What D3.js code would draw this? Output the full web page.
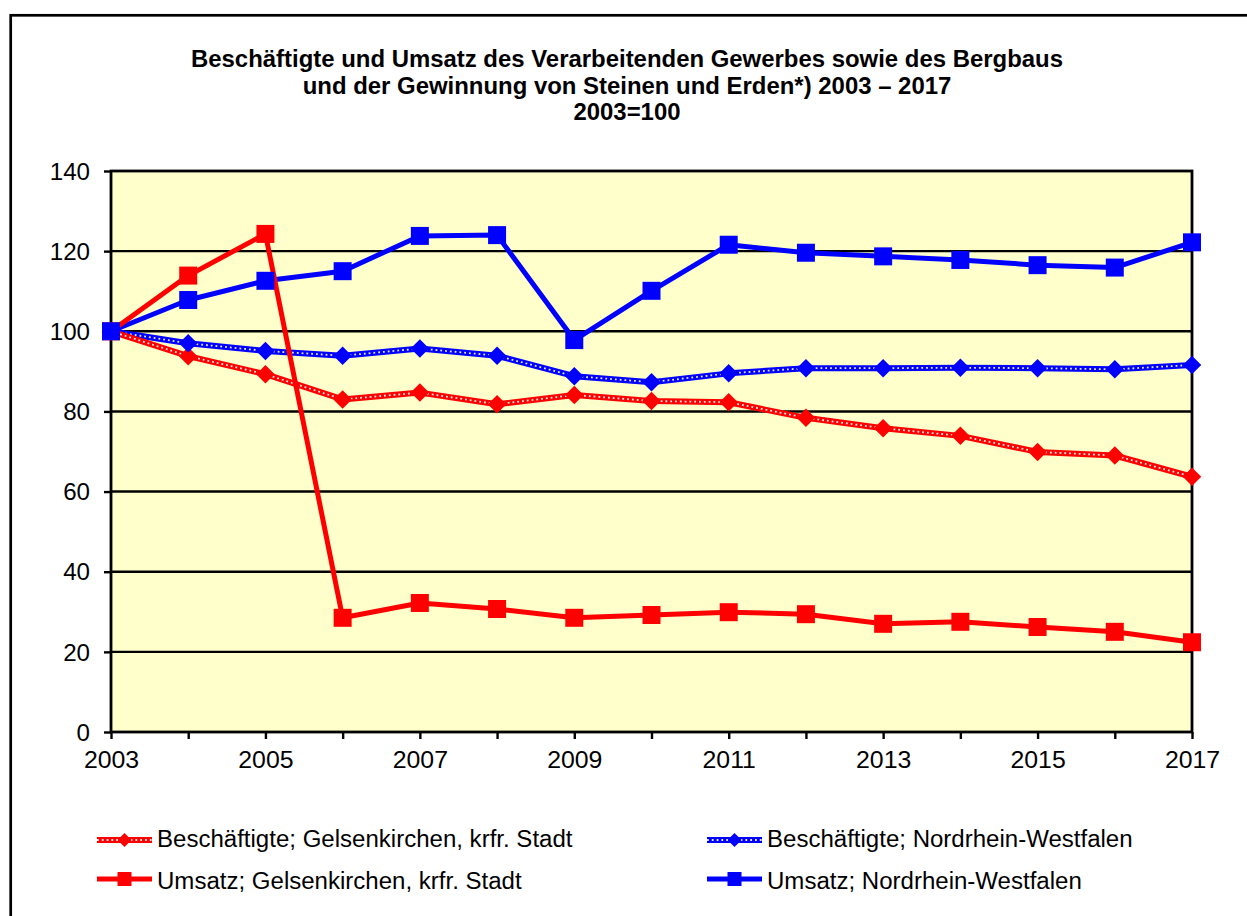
<!DOCTYPE html>
<html>
<head>
<meta charset="utf-8">
<script src="https://cdn.jsdelivr.net/npm/d3@7"></script>
<style>
  html, body { margin: 0; padding: 0; background: #fff; }
  svg { display: block; font-family: "Liberation Sans", Arial, sans-serif; }
</style>
</head>
<body>
<svg id="chart" width="1247" height="916"></svg>
<script>
// Index values, 2003 = 100
const years = [2003, 2004, 2005, 2006, 2007, 2008, 2009, 2010, 2011, 2012, 2013, 2014, 2015, 2016, 2017];
const beschGE   = [100, 93.8, 89.3, 83.0, 84.7, 81.8, 84.1, 82.6, 82.3, 78.4, 75.8, 73.9, 69.9, 69.0, 63.7];
const umsatzGE  = [100, 113.9, 124.3, 28.5, 32.2, 30.7, 28.5, 29.2, 29.9, 29.4, 27.0, 27.5, 26.2, 25.0, 22.4];
const beschNRW  = [100, 97.0, 95.1, 93.9, 95.7, 93.9, 88.8, 87.3, 89.5, 90.8, 90.8, 90.9, 90.8, 90.5, 91.6];
const umsatzNRW = [100, 107.8, 112.6, 115.0, 123.8, 124.0, 97.8, 110.1, 121.6, 119.6, 118.7, 117.8, 116.5, 115.9, 122.2];
const yTicks = [0, 20, 40, 60, 80, 100, 120, 140];
const xTickLabels = [2003, 2005, 2007, 2009, 2011, 2013, 2015, 2017];
const titleLines = [
  "Beschäftigte und Umsatz des Verarbeitenden Gewerbes sowie des Bergbaus",
  "und der Gewinnung von Steinen und Erden*) 2003 – 2017",
  "2003=100"
];
const seriesNames = [
  "Beschäftigte; Gelsenkirchen, krfr. Stadt",
  "Umsatz; Gelsenkirchen, krfr. Stadt",
  "Beschäftigte; Nordrhein-Westfalen",
  "Umsatz; Nordrhein-Westfalen"
];

const RED = "#ff0000", BLUE = "#0000ff";
const series = [
  { name: seriesNames[0], values: beschGE,   color: RED,  dotted: true,  marker: "diamond" },
  { name: seriesNames[1], values: umsatzGE,  color: RED,  dotted: false, marker: "square" },
  { name: seriesNames[2], values: beschNRW,  color: BLUE, dotted: true,  marker: "diamond" },
  { name: seriesNames[3], values: umsatzNRW, color: BLUE, dotted: false, marker: "square" }
];

const svg = d3.select("#chart");
const plot = { left: 111, right: 1192, top: 171, bottom: 732 };

// text is set slightly wide, like the original export
function widen(sel, factor) {
  sel.each(function () {
    const w = this.getComputedTextLength();
    d3.select(this).attr("textLength", w * factor).attr("lengthAdjust", "spacingAndGlyphs");
  });
}

// outer frame
svg.append("rect")
  .attr("x", 10.7).attr("y", 15.3).attr("width", 1260).attr("height", 940)
  .attr("fill", "#fff").attr("stroke", "#000").attr("stroke-width", 2.7);

// title
const title = svg.append("g").selectAll("text").data(titleLines).join("text")
  .attr("x", 627).attr("y", (d, i) => 67 + i * 26.5)
  .attr("text-anchor", "middle")
  .attr("font-size", 23).attr("font-weight", "bold").attr("fill", "#000")
  .text(d => d);
widen(title, 1.04);

const x = d3.scaleLinear().domain([2003, 2017]).range([plot.left, plot.right]);
const y = d3.scaleLinear().domain([0, 140]).range([plot.bottom, plot.top]);

// plot background
svg.append("rect")
  .attr("x", plot.left).attr("y", plot.top)
  .attr("width", plot.right - plot.left).attr("height", plot.bottom - plot.top)
  .attr("fill", "#ffffcc");

// horizontal gridlines
svg.append("g").selectAll("line").data(yTicks.filter(v => v > 0 && v < 140)).join("line")
  .attr("x1", plot.left).attr("x2", plot.right)
  .attr("y1", d => y(d)).attr("y2", d => y(d))
  .attr("stroke", "#000").attr("stroke-width", 2.4);

// axes
const yAxis = d3.axisLeft(y).tickValues(yTicks).tickSize(7).tickPadding(14).tickFormat(d3.format("d"));
const gy = svg.append("g").attr("transform", `translate(${plot.left},0)`).call(yAxis);
gy.select(".domain").remove();
gy.selectAll(".tick line").attr("stroke", "#000").attr("stroke-width", 2.4);
gy.selectAll(".tick text").attr("font-size", 23).attr("fill", "#000")
  .attr("font-family", "'Liberation Sans', Arial, sans-serif").attr("dy", "0.36em");
widen(gy.selectAll(".tick text"), 1.05);

const xAxis = d3.axisBottom(x).tickValues(years).tickSize(7).tickPadding(12)
  .tickFormat(d => xTickLabels.includes(d) ? String(d) : "");
const gx = svg.append("g").attr("transform", `translate(0,${plot.bottom})`).call(xAxis);
gx.select(".domain").remove();
gx.selectAll(".tick line").attr("stroke", "#000").attr("stroke-width", 2.4);
gx.selectAll(".tick text").attr("font-size", 23).attr("fill", "#000")
  .attr("font-family", "'Liberation Sans', Arial, sans-serif").attr("dy", "0.72em");
widen(gx.selectAll(".tick text").filter(function () { return this.textContent !== ""; }), 1.08);

// plot border
svg.append("rect")
  .attr("x", plot.left).attr("y", plot.top)
  .attr("width", plot.right - plot.left).attr("height", plot.bottom - plot.top)
  .attr("fill", "none").attr("stroke", "#000").attr("stroke-width", 2.8);

// marker shapes
const sqSym = d3.symbol().type(d3.symbolSquare);
const diaPath = (s) => `M0,${-s}L${s},0L0,${s}L${-s},0Z`;

function drawLine(g, pts, s) {
  const line = d3.line().x(p => p[0]).y(p => p[1]);
  g.append("path").attr("d", line(pts)).attr("fill", "none")
    .attr("stroke", s.color).attr("stroke-width", s.dotted ? 6 : 5)
    .attr("stroke-linejoin", "round");
  if (s.dotted) {
    g.append("path").attr("d", line(pts)).attr("fill", "none")
      .attr("stroke", "#fff").attr("stroke-width", 1.8)
      .attr("stroke-dasharray", "1.8,3").attr("opacity", 0.9);
  }
}
function drawMarker(g, cx, cy, s, size) {
  if (s.marker === "square") {
    g.append("path").attr("transform", `translate(${cx},${cy})`)
      .attr("d", sqSym.size(size * size)()).attr("fill", s.color);
  } else {
    g.append("path").attr("transform", `translate(${cx},${cy})`)
      .attr("d", diaPath(size / 2)).attr("fill", s.color);
  }
}

// lines first, then markers (NRW turnover markers on top)
const linesG = svg.append("g");
const lineOrder = [2, 0, 3, 1];
lineOrder.forEach(i => {
  const s = series[i];
  drawLine(linesG, years.map((yr, k) => [x(yr), y(s.values[k])]), s);
});
const markG = svg.append("g");
[0, 1, 2, 3].forEach(i => {
  const s = series[i];
  years.forEach((yr, k) => drawMarker(markG, x(yr), y(s.values[k]), s, s.marker === "square" ? 18 : 18.5));
});

// legend
const legendPos = [
  { lx: 97, ly: 840, tx: 157, ty: 847 },
  { lx: 97, ly: 879, tx: 157, ty: 889 },
  { lx: 707, ly: 840, tx: 767, ty: 847 },
  { lx: 707, ly: 879, tx: 767, ty: 889 }
];
const legG = svg.append("g");
series.forEach((s, i) => {
  const p = legendPos[i];
  drawLine(legG, [[p.lx, p.ly], [p.lx + 55, p.ly]], s);
  drawMarker(legG, p.lx + 27.5, p.ly, s, 14);
  const t = legG.append("text").attr("x", p.tx).attr("y", p.ty)
    .attr("font-size", 23).attr("fill", "#000").text(s.name);
  widen(t, 1.045);
});
</script>
</body>
</html>
